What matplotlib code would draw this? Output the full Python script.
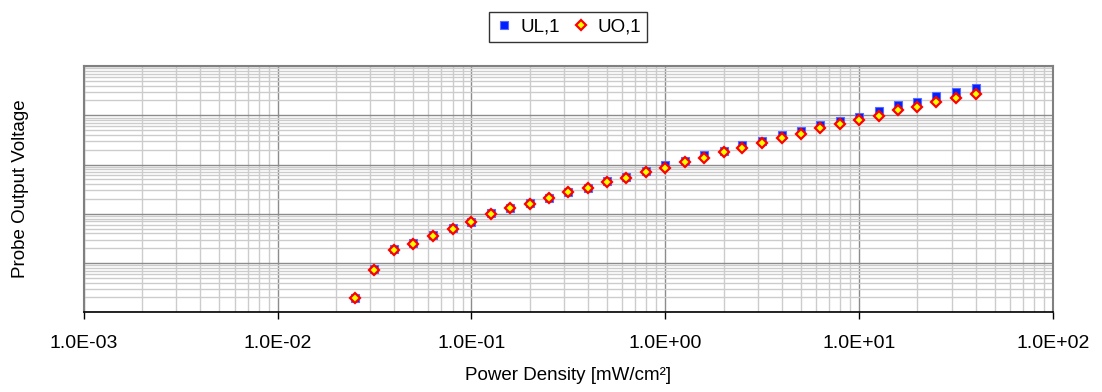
import numpy as np
import matplotlib
matplotlib.use("Agg")
import matplotlib.pyplot as plt
from matplotlib.ticker import LogLocator, NullFormatter, FixedLocator

plt.rcParams['font.family'] = ['Liberation Sans', 'DejaVu Sans']

# Power density steps [mW/cm2]
power = [0.025, 0.0316, 0.04, 0.05, 0.063, 0.08, 0.1, 0.126, 0.158, 0.2,
         0.25, 0.316, 0.4, 0.5, 0.63, 0.8, 1.0, 1.26, 1.58, 2.0,
         2.5, 3.16, 4.0, 5.0, 6.3, 8.0, 10.0, 12.6, 15.8, 20.0,
         25.0, 31.6, 40.0]

# Probe output voltage (arbitrary units, log scale)
ul1 = [1.98e-3, 7.45e-3, 0.019, 0.0252, 0.0366, 0.0514, 0.0693, 0.102, 0.134, 0.163,
       0.213, 0.282, 0.340, 0.455, 0.55, 0.728, 0.962, 1.19, 1.54, 1.90,
       2.45, 3.04, 3.98, 4.78, 6.34, 7.54, 9.22, 12.2, 15.8, 18.8,
       24.8, 29.9, 36.2]
uo1 = [1.92e-3, 7.2e-3, 0.0184, 0.0244, 0.0354, 0.0498, 0.0671, 0.099, 0.130, 0.158,
       0.206, 0.273, 0.329, 0.441, 0.532, 0.695, 0.837, 1.11, 1.34, 1.77,
       2.13, 2.77, 3.41, 4.10, 5.43, 6.56, 8.02, 9.66, 12.8, 14.9,
       18.3, 22.1, 26.6]

xticks = [1e-3, 1e-2, 1e-1, 1e0, 1e1, 1e2]
xticklabels = ['1.0E-03', '1.0E-02', '1.0E-01', '1.0E+00', '1.0E+01', '1.0E+02']

fig = plt.figure(figsize=(11.02, 3.92), dpi=100)
ax = fig.add_axes([0.076, 0.2033, 0.8795, 0.6283])
ax.set_xscale('log')
ax.set_yscale('log')
ax.set_xlim(1e-3, 1e2)
ax.set_ylim(1e-3, 1e2)

ax.plot(power, ul1, linestyle='none', marker='s', markersize=6,
        markerfacecolor='#0020ff', markeredgecolor='#5a6cff', markeredgewidth=0.8,
        label='UL,1', zorder=3)
ax.plot(power, uo1, linestyle='none', marker='D', markersize=5.5,
        markerfacecolor='#ffff00', markeredgecolor='#ff0000', markeredgewidth=1.6,
        label='UO,1', zorder=4)

ax.xaxis.set_major_locator(FixedLocator(xticks))
ax.set_xticklabels(xticklabels, fontsize=14)
ax.xaxis.set_minor_locator(LogLocator(base=10, subs=np.arange(2, 10), numticks=20))
ax.xaxis.set_minor_formatter(NullFormatter())
ax.yaxis.set_major_locator(LogLocator(base=10, numticks=20))
ax.yaxis.set_minor_locator(LogLocator(base=10, subs=np.arange(2, 10), numticks=20))
ax.yaxis.set_major_formatter(NullFormatter())
ax.yaxis.set_minor_formatter(NullFormatter())

ax.grid(True, which='major', color='#8c8c8c', linewidth=1.0)
ax.grid(True, which='minor', color='#cccccc', linewidth=1.0)
ax.set_axisbelow(True)

ax.tick_params(axis='x', which='major', direction='out', length=5, width=1, color='black', pad=11)
ax.tick_params(axis='x', which='minor', bottom=False, top=False, length=0, width=0)
ax.tick_params(axis='y', which='both', left=False, right=False, length=0, width=0)

for s in ['left', 'top', 'right']:
    ax.spines[s].set_color('#808080')
    ax.spines[s].set_linewidth(1.5)
ax.spines['bottom'].set_color('black')
ax.spines['bottom'].set_linewidth(1.2)

ax.set_xlabel('Power Density [mW/cm²]', fontsize=13.5, labelpad=11)
ax.set_ylabel('Probe Output Voltage', fontsize=13.5)
ax.yaxis.set_label_coords(-0.057, 0.5)

leg = ax.legend(loc='lower center', bbox_to_anchor=(0.5, 1.06), ncol=2, fontsize=13.5,
                frameon=True, fancybox=False, edgecolor='black', handlelength=0.9,
                handletextpad=0.4, columnspacing=0.7, borderpad=0.35)
leg.get_frame().set_linewidth(1.0)

fig.savefig('out.png', dpi=100)
